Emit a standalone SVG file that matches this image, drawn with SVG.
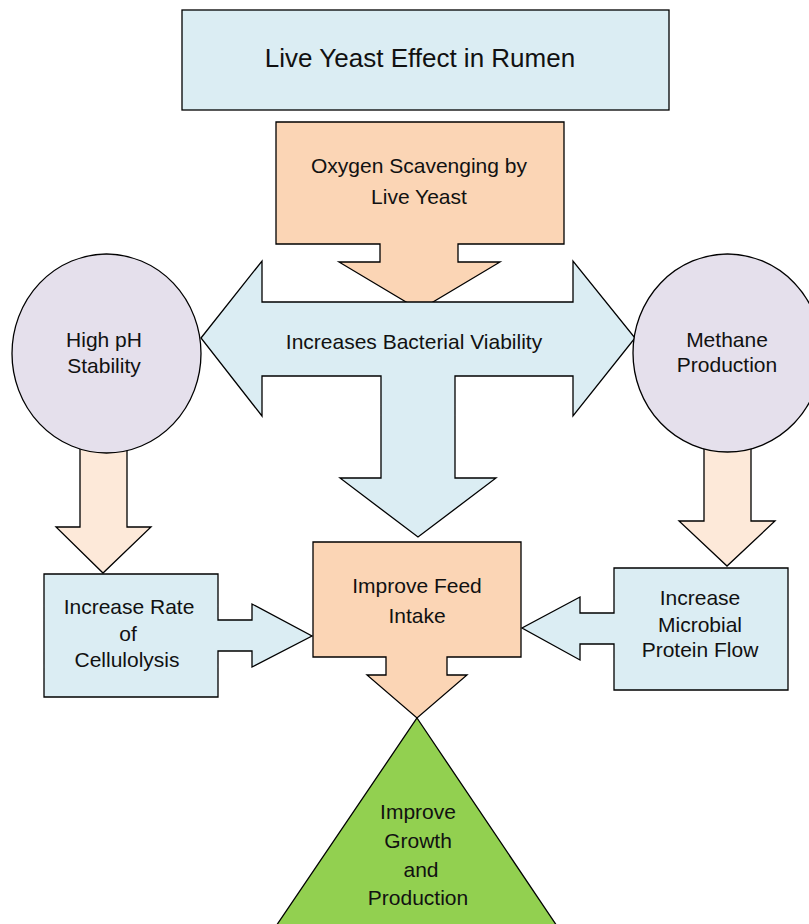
<svg xmlns="http://www.w3.org/2000/svg" width="809" height="924" viewBox="0 0 809 924">
<style>
.s{stroke:#000;stroke-width:1.3;stroke-linejoin:miter}
.blue{fill:#dbedf3}
.peach{fill:#fbd5b5}
.lpeach{fill:#fde9d9}
.lav{fill:#e5e0ec}
.green{fill:#92d050}
text{font-family:"Liberation Sans",Arial,Helvetica,sans-serif;font-size:21px;fill:#111;text-anchor:middle}
.title{font-size:26px}
</style>
<rect width="809" height="924" fill="#fff"/>
<g id="connectors">
<polygon class="s lpeach" points="80,440 127,440 127,527 151,527 103,573 56,527 80,527"/>
<polygon class="s lpeach" points="704,440 751,440 751,521 775,521 727,566 679,521 704,521"/>
</g>
<g id="title">
<rect class="s blue" x="182" y="10" width="487" height="100"/>
<text class="title" x="420" y="67">Live Yeast Effect in Rumen</text>
</g>
<g id="oxygen-scavenging">
<polygon class="s peach" points="276,122 564,122 564,244 458,244 458,262 500,262 419.5,310 339,262 380,262 380,244 276,244"/>
<text x="419" y="173">Oxygen Scavenging by</text>
<text x="419" y="204">Live Yeast</text>
</g>
<g id="bacterial-viability">
<polygon class="s blue" points="201,338 262,261 262,302 573,302 573,261 635,338 573,416 573,376 455,376 455,478 496,478 418,537 340,478 381,478 381,376 262,376 262,416"/>
<text x="414" y="349">Increases Bacterial Viability</text>
</g>
<g id="high-ph">
<ellipse class="s lav" cx="106.5" cy="353.5" rx="94.5" ry="99.5"/>
<text x="104" y="347">High pH</text>
<text x="104" y="373">Stability</text>
</g>
<g id="methane">
<ellipse class="s lav" cx="727.5" cy="353" rx="94.5" ry="99"/>
<text x="727" y="347">Methane</text>
<text x="727" y="372">Production</text>
</g>
<g id="cellulolysis">
<polygon class="s blue" points="44,574 218,574 218,620 252,620 252,604 312,636 252,667 252,651 218,651 218,697 44,697"/>
<text x="129" y="614">Increase Rate</text>
<text x="128" y="641">of</text>
<text x="127" y="667">Cellulolysis</text>
</g>
<g id="microbial-protein">
<polygon class="s blue" points="614,568 788,568 788,690 614,690 614,644 580,644 580,660 522,628 580,597 580,613 614,613"/>
<text x="700" y="605">Increase</text>
<text x="700" y="632">Microbial</text>
<text x="700" y="657">Protein Flow</text>
</g>
<g id="feed-intake">
<polygon class="s peach" points="313,542 521,542 521,657 447,657 447,675 467,675 417,718 367,675 386,675 386,657 313,657"/>
<text x="417" y="593">Improve Feed</text>
<text x="417" y="623">Intake</text>
</g>
<g id="growth-production">
<polygon class="s green" points="417,718 561,932 272,932"/>
<text x="418" y="819">Improve</text>
<text x="418" y="848">Growth</text>
<text x="421" y="877">and</text>
<text x="418" y="905">Production</text>
</g>
</svg>
